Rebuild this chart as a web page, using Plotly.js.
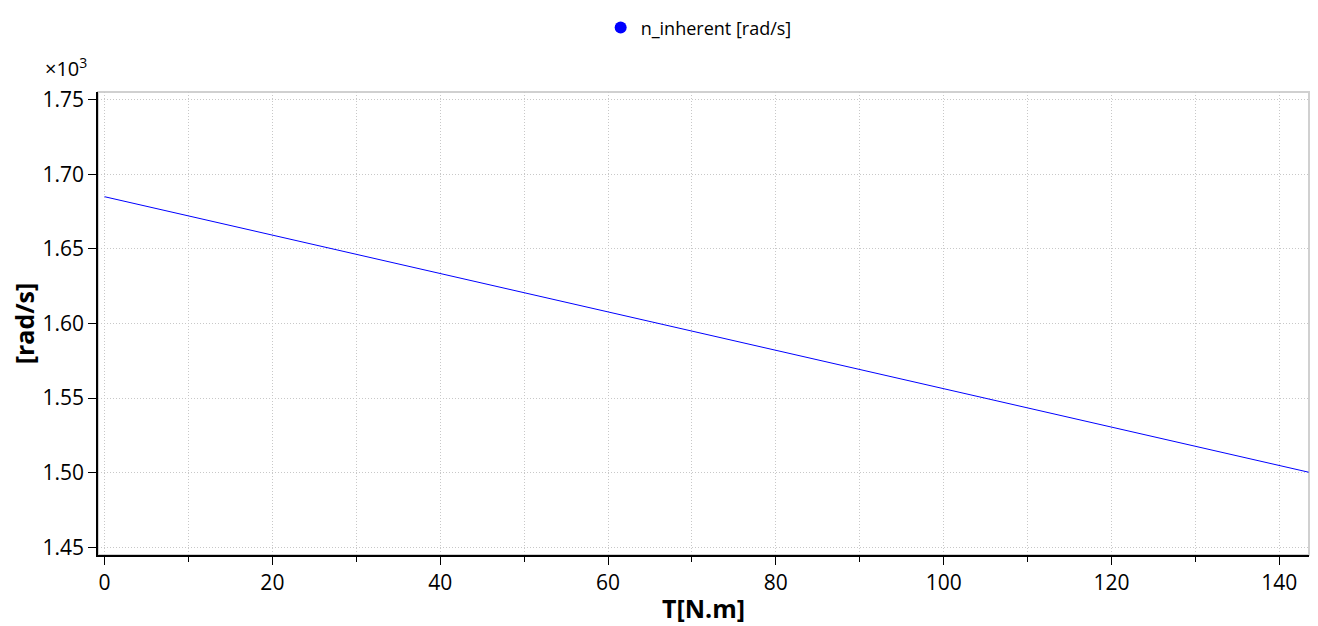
<!DOCTYPE html>
<html>
<head>
<meta charset="utf-8">
<script src="https://cdn.plot.ly/plotly-3.0.1.min.js"></script>
<style>html,body{margin:0;padding:0;background:#fff;}#chart{width:1318px;height:626px;}</style>
</head>
<body>
<div id="chart"></div>
<script>
// Data (T in N.m, speed in rad/s)
const torque = [0, 20, 40, 60, 80, 100, 120, 143.5];
const nInherent = [1685, 1659.3, 1633.5, 1607.8, 1582.0, 1556.3, 1530.6, 1500.3];
const seriesName = "n_inherent [rad/s]";
const yScale = 1000; // axis shows values ×10³

const font = "Open Sans, Noto Sans, sans-serif";
const gridCol = '#c8c8c8';

const traces = [
  {
    x: torque,
    y: nInherent.map(v => v / yScale),
    type: 'scatter',
    mode: 'lines',
    line: {color: '#0000ff', width: 1},
    showlegend: false,
    hoverinfo: 'x+y'
  },
  {
    x: [null], y: [null],
    type: 'scatter',
    mode: 'markers',
    marker: {color: '#0000ff', size: 12},
    name: seriesName
  }
];

const layout = {
  width: 1318, height: 626,
  margin: {l: 98, r: 9, t: 92, b: 71},
  paper_bgcolor: '#fff', plot_bgcolor: '#fff',
  font: {family: font, color: '#000', size: 21},
  showlegend: true,
  legend: {
    orientation: 'h', xref: 'paper', x: 0.496, xanchor: 'center',
    yref: 'container', y: 0.985, yanchor: 'top',
    font: {family: font, size: 18, color: '#000'}
  },
  xaxis: {
    range: [-0.78, 143.54],
    tick0: 0, dtick: 20,
    ticks: 'outside', ticklen: 8, tickwidth: 1, tickcolor: '#000',
    showline: true, linecolor: '#000', linewidth: 1.5,
    showgrid: true, gridcolor: gridCol, griddash: '1px,2px', gridwidth: 1,
    zeroline: false,
    minor: {dtick: 10, ticks: 'outside', ticklen: 5, tickcolor: '#000', showgrid: true, gridcolor: gridCol, griddash: '1px,2px', gridwidth: 1},
    tickfont: {family: font, size: 21},
    title: {text: '<b>T[N.m]</b>', font: {family: font, size: 25}, standoff: 6}
  },
  yaxis: {
    range: [1.4448, 1.7552],
    tick0: 1.45, dtick: 0.05, tickformat: '.2f',
    ticks: 'outside', ticklen: 8, tickwidth: 1, tickcolor: '#000',
    showline: true, linecolor: '#000', linewidth: 1.5,
    showgrid: true, gridcolor: gridCol, griddash: '1px,2px', gridwidth: 1,
    zeroline: false,
    tickfont: {family: font, size: 21},
    title: {text: '<b>[rad/s]</b>', font: {family: font, size: 25}, standoff: 1}
  },
  shapes: [
    {type: 'rect', xref: 'paper', yref: 'paper', x0: 0, x1: 1, y0: 0, y1: 1,
     line: {color: '#d0d0d0', width: 2}, layer: 'below'}
  ],
  annotations: [
    {xref: 'paper', yref: 'paper', x: -0.0454, y: 1.052, xanchor: 'left', yanchor: 'middle',
     text: '×10<sup>3</sup>', showarrow: false, font: {family: font, size: 20, color: '#000'}}
  ]
};

Plotly.newPlot('chart', traces, layout, {displayModeBar: false, responsive: false});
</script>
</body>
</html>
